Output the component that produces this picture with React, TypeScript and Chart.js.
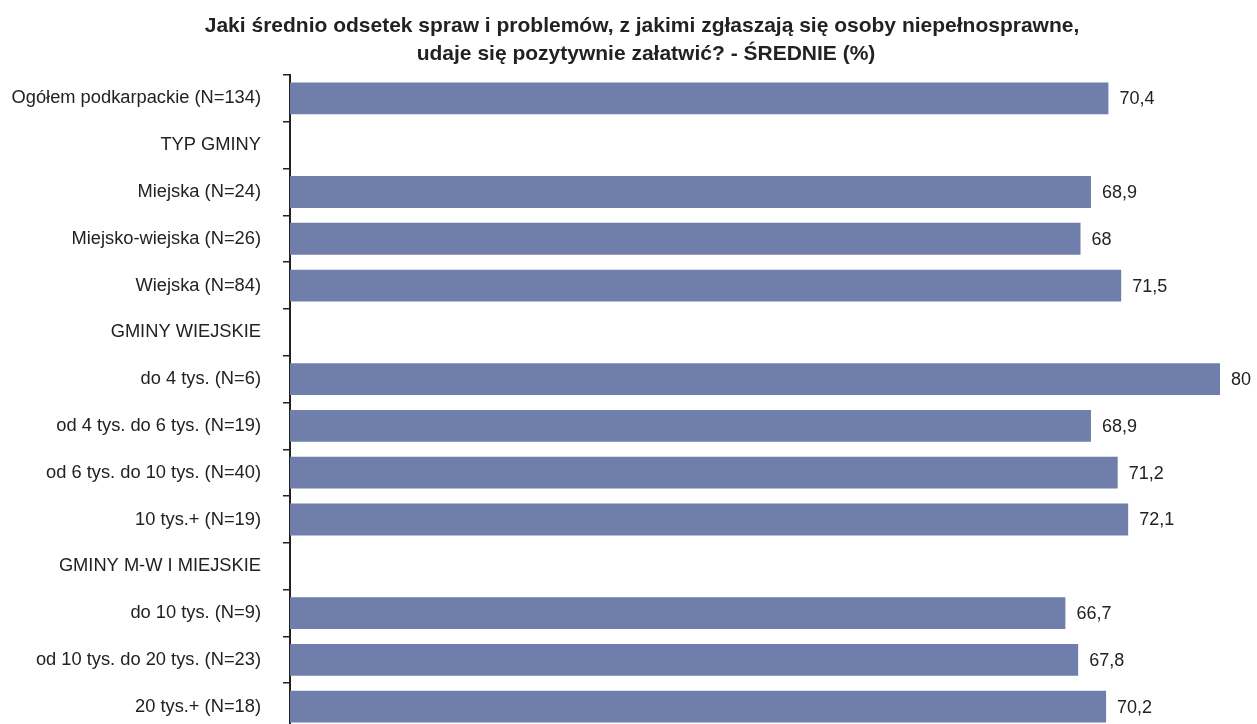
import React, { useEffect, useRef } from "react";
import { Chart, registerables } from "chart.js";

Chart.register(...registerables);

const categories: string[] = [
  "Ogółem podkarpackie (N=134)",
  "TYP GMINY",
  "Miejska (N=24)",
  "Miejsko-wiejska (N=26)",
  "Wiejska (N=84)",
  "GMINY WIEJSKIE",
  "do 4 tys. (N=6)",
  "od 4 tys. do 6 tys. (N=19)",
  "od 6 tys. do 10 tys. (N=40)",
  "10 tys.+ (N=19)",
  "GMINY M-W I MIEJSKIE",
  "do 10 tys. (N=9)",
  "od 10 tys. do 20 tys. (N=23)",
  "20 tys.+ (N=18)",
];

const values: (number | null)[] = [
  70.4, null, 68.9, 68, 71.5, null, 80, 68.9, 71.2, 72.1, null, 66.7, 67.8, 70.2,
];

const titleLines: string[] = [
  "Jaki średnio odsetek spraw i problemów, z jakimi zgłaszają się osoby niepełnosprawne,",
  "udaje się pozytywnie załatwić? - ŚREDNIE (%)",
];

const FONT = "'Liberation Sans', Arial, Helvetica, sans-serif";
const TEXT = "#222222";
const BAR = "#6f7eab";

const valueLabels = {
  id: "valueLabels",
  afterDatasetsDraw(chart: any) {
    const ctx = chart.ctx;
    const meta = chart.getDatasetMeta(0);
    ctx.save();
    ctx.font = `18px ${FONT}`;
    ctx.fillStyle = TEXT;
    ctx.textAlign = "left";
    ctx.textBaseline = "middle";
    meta.data.forEach((el: any, i: number) => {
      const v = values[i];
      if (v === null || v === undefined) return;
      const txt = String(v).replace(".", ",");
      ctx.fillText(txt, el.x + 11, el.y + 1);
    });
    ctx.restore();
  },
};

const chartTitle = {
  id: "chartTitle",
  afterDraw(chart: any) {
    const ctx = chart.ctx;
    ctx.save();
    ctx.font = `bold 21px ${FONT}`;
    ctx.fillStyle = TEXT;
    ctx.textAlign = "center";
    ctx.textBaseline = "alphabetic";
    ctx.fillText(titleLines[0], 642, 32);
    ctx.fillText(titleLines[1], 646, 60);
    ctx.restore();
  },
};

export default function App() {
  const ref = useRef<HTMLCanvasElement | null>(null);

  useEffect(() => {
    if (!ref.current) return;
    const chart = new Chart(ref.current, {
      type: "bar",
      data: {
        labels: categories,
        datasets: [
          {
            data: values,
            backgroundColor: BAR,
            borderWidth: 0,
            barPercentage: 0.68,
            categoryPercentage: 1,
          },
        ],
      },
      options: {
        indexAxis: "y",
        responsive: false,
        animation: false,
        devicePixelRatio: 1,
        layout: { padding: { left: 0, right: 37, top: 75, bottom: 0 } },
        plugins: {
          legend: { display: false },
          tooltip: { enabled: false },
          title: { display: false },
        },
        scales: {
          x: {
            display: false,
            min: 0,
            max: 80,
          },
          y: {
            afterFit: (scale: any) => {
              scale.width = 290;
            },
            grid: {
              display: true,
              drawOnChartArea: false,
              drawTicks: true,
              tickLength: 7,
              color: TEXT,
              lineWidth: 1.5,
              offset: true,
            },
            border: { display: true, color: TEXT, width: 2 },
            ticks: {
              color: TEXT,
              padding: 22,
              font: { family: FONT, size: 18.3 },
            },
          },
        },
      },
      plugins: [valueLabels, chartTitle],
    });
    return () => chart.destroy();
  }, []);

  return (
    <div
      style={{
        position: "fixed",
        left: 0,
        top: 0,
        width: 1257,
        height: 724,
        overflow: "hidden",
        background: "#ffffff",
      }}
    >
      <canvas ref={ref} width={1257} height={763} style={{ display: "block" }} />
    </div>
  );
}
